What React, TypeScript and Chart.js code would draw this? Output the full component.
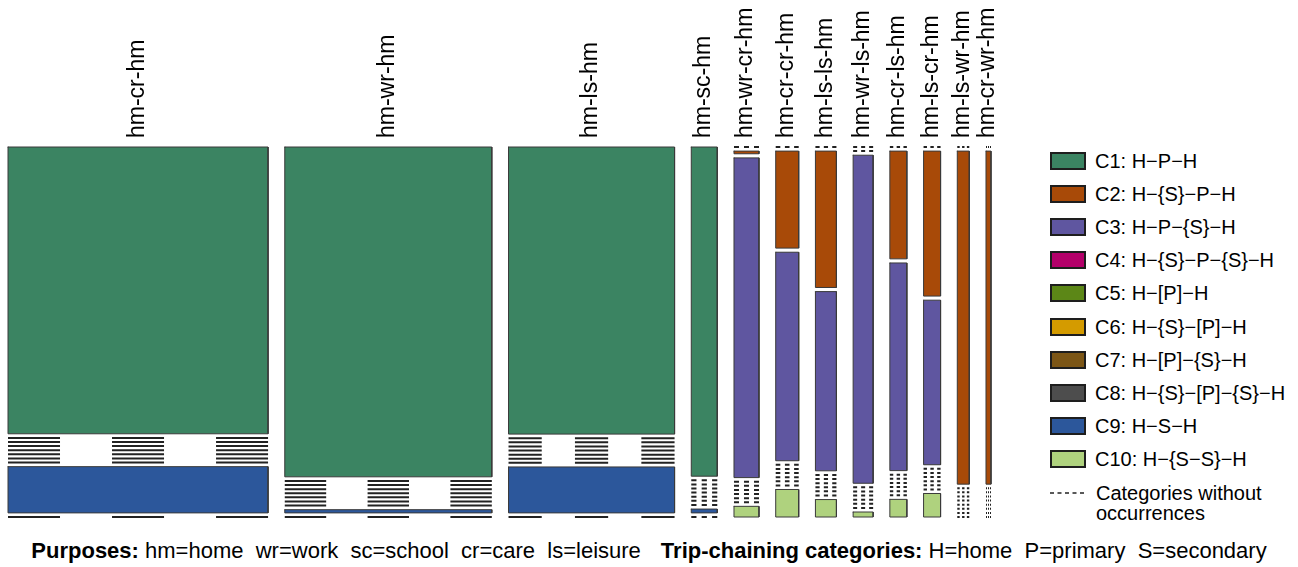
import { useEffect, useRef } from 'react';
import { Chart, registerables } from 'chart.js';

Chart.register(...registerables);

// Trip patterns (columns of the mosaic), widths follow the number of tours
const TRIP_PATTERNS = [
  'hm-cr-hm', 'hm-wr-hm', 'hm-ls-hm', 'hm-sc-hm', 'hm-wr-cr-hm', 'hm-cr-cr-hm',
  'hm-ls-ls-hm', 'hm-wr-ls-hm', 'hm-cr-ls-hm', 'hm-ls-cr-hm', 'hm-ls-wr-hm', 'hm-cr-wr-hm',
];

// Trip-chaining categories (rows of the mosaic, top to bottom)
const CATEGORY_CODES = ['C1', 'C2', 'C3', 'C4', 'C5', 'C6', 'C7', 'C8', 'C9', 'C10'];
const CATEGORY_CHAINS = [
  'H−P−H', 'H−{S}−P−H', 'H−P−{S}−H', 'H−{S}−P−{S}−H', 'H−[P]−H',
  'H−{S}−[P]−H', 'H−[P]−{S}−H', 'H−{S}−[P]−{S}−H', 'H−S−H', 'H−{S−S}−H',
];
const CATEGORY_COLORS = [
  '#3b8462', '#a84a08', '#5f56a0', '#b4006a', '#5c8717',
  '#d49b00', '#7c5616', '#4d4d4d', '#2c579b', '#afd27e',
];

// Tour counts per category, one value per trip pattern
const C1_COUNTS = [2239, 2050, 1431, 257, 0, 0, 0, 0, 0, 0, 0, 0];
const C2_COUNTS = [0, 0, 0, 0, 2, 67, 86, 0, 55, 74, 120, 50];
const C3_COUNTS = [0, 0, 0, 0, 240, 144, 113, 197, 106, 84, 0, 0];
const C4_COUNTS = [0, 0, 0, 0, 0, 0, 0, 0, 0, 0, 0, 0];
const C5_COUNTS = [0, 0, 0, 0, 0, 0, 0, 0, 0, 0, 0, 0];
const C6_COUNTS = [0, 0, 0, 0, 0, 0, 0, 0, 0, 0, 0, 0];
const C7_COUNTS = [0, 0, 0, 0, 0, 0, 0, 0, 0, 0, 0, 0];
const C8_COUNTS = [0, 0, 0, 0, 0, 0, 0, 0, 0, 0, 0, 0];
const C9_COUNTS = [361, 20, 229, 3, 0, 0, 0, 0, 0, 0, 0, 0];
const C10_COUNTS = [0, 0, 0, 0, 8, 19, 11, 3, 9, 12, 0, 0];

const CATEGORY_COUNTS = [
  C1_COUNTS, C2_COUNTS, C3_COUNTS, C4_COUNTS, C5_COUNTS,
  C6_COUNTS, C7_COUNTS, C8_COUNTS, C9_COUNTS, C10_COUNTS,
];

const FONT = '"Liberation Sans", Arial, Helvetica, sans-serif';

// Share of the axis used by each spacing between tiles
const X_GAP = 0.017;
const Y_GAP = 0.0111;

function buildMosaic() {
  const totals = TRIP_PATTERNS.map((_, j) =>
    CATEGORY_COUNTS.reduce((s, row) => s + row[j], 0));
  const grand = totals.reduce((a, b) => a + b, 0);
  const widthSpace = 1 - X_GAP * (TRIP_PATTERNS.length - 1);
  const heightSpace = 1 - Y_GAP * (CATEGORY_COUNTS.length - 1);

  const datasets: any[] = [];
  const centers: number[] = [];
  let x = 0;
  totals.forEach((total, j) => {
    const x0 = x;
    const x1 = x + (widthSpace * total) / grand;
    centers.push((x0 + x1) / 2);
    let y = 1;
    CATEGORY_COUNTS.forEach((row, i) => {
      const n = row[j];
      if (n > 0) {
        const h = (heightSpace * n) / total;
        datasets.push({
          label: `${TRIP_PATTERNS[j]} ${CATEGORY_CODES[i]}`,
          data: [
            { x: x0, y }, { x: x1, y }, { x: x1, y: y - h }, { x: x0, y: y - h }, { x: x0, y },
          ],
          showLine: true,
          fill: 'shape',
          backgroundColor: CATEGORY_COLORS[i],
          borderColor: '#3a3a3a',
          borderWidth: 1,
          borderCapStyle: 'square',
          pointRadius: 0,
          tension: 0,
          clip: false,
        });
        y -= h;
      } else {
        // empty cell: dashed line across the column
        datasets.push({
          label: `${TRIP_PATTERNS[j]} ${CATEGORY_CODES[i]}`,
          data: [{ x: x0, y }, { x: x1, y }],
          showLine: true,
          fill: false,
          borderColor: '#222222',
          borderWidth: 2,
          borderDash: (ctx: any) => {
            const sx = ctx.chart.scales.x;
            const w = sx.getPixelForValue(x1) - sx.getPixelForValue(x0);
            return [w / 5, w / 5];
          },
          pointRadius: 0,
          tension: 0,
          clip: false,
        });
      }
      y -= Y_GAP;
    });
    x = x1 + X_GAP;
  });
  return { datasets, centers };
}

export default function App() {
  const canvasRef = useRef<HTMLCanvasElement>(null);

  useEffect(() => {
    const { datasets, centers } = buildMosaic();
    const chart = new Chart(canvasRef.current as HTMLCanvasElement, {
      type: 'scatter',
      data: { datasets },
      options: {
        responsive: false,
        animation: false,
        events: [],
        layout: { padding: { left: 4, right: 23, top: 0, bottom: 13 } },
        scales: {
          x: {
            type: 'linear',
            position: 'top',
            min: 0,
            max: 1,
            grid: { display: false, drawTicks: false },
            border: { display: false },
            afterBuildTicks: (scale: any) => {
              scale.ticks = centers.map((v) => ({ value: v }));
            },
            afterFit: (scale: any) => {
              scale.height = 147;
            },
            ticks: {
              autoSkip: false,
              minRotation: 90,
              maxRotation: 90,
              padding: 9,
              labelOffset: 27,
              color: '#000000',
              font: { family: FONT, size: 23 },
              callback: (_v: any, i: number) => TRIP_PATTERNS[i],
            },
          },
          y: { type: 'linear', display: false, min: 0, max: 1 },
        },
        plugins: {
          legend: { display: false },
          tooltip: { enabled: false },
        },
      } as any,
    });
    return () => chart.destroy();
  }, []);

  return (
    <div
      style={{
        position: 'absolute', left: 0, top: 0, width: 1298, height: 567,
        fontFamily: FONT, color: '#000', background: '#fff', overflow: 'hidden',
      }}
    >
      <canvas
        ref={canvasRef}
        width={1010}
        height={530}
        style={{ position: 'absolute', left: 4, top: 0, width: 1010, height: 530 }}
      />

      {CATEGORY_CODES.map((code, i) => (
        <div
          key={code}
          style={{
            position: 'absolute', left: 1050, top: 151 + i * 33.1, height: 20,
            display: 'flex', alignItems: 'center', fontSize: 20, lineHeight: '20px',
            whiteSpace: 'pre',
          }}
        >
          <div
            style={{
              width: 36, height: 18, boxSizing: 'border-box',
              border: '2px solid #1e1e1e', background: CATEGORY_COLORS[i],
            }}
          />
          <span style={{ marginLeft: 9 }}>{`${code}: ${CATEGORY_CHAINS[i]}`}</span>
        </div>
      ))}

      <svg
        width={36}
        height={4}
        style={{ position: 'absolute', left: 1050, top: 491 }}
      >
        <line x1={0} y1={2} x2={36} y2={2} stroke="#222" strokeWidth={1.4} strokeDasharray="4 3.5" />
      </svg>
      <div
        style={{
          position: 'absolute', left: 1096, top: 483, fontSize: 20, lineHeight: '20px',
        }}
      >
        <div>Categories without</div>
        <div>occurrences</div>
      </div>

      <div
        style={{
          position: 'absolute', left: 0, top: 538, width: 1298, textAlign: 'center',
          fontSize: 22, lineHeight: '26px', whiteSpace: 'pre',
        }}
      >
        <span style={{ fontWeight: 'bold' }}>Purposes:</span>
        <span>{' hm=home  wr=work  sc=school  cr=care  ls=leisure'}</span>
        <span style={{ fontWeight: 'bold', marginLeft: 20 }}>Trip-chaining categories:</span>
        <span>{' H=home  P=primary  S=secondary'}</span>
      </div>
    </div>
  );
}
